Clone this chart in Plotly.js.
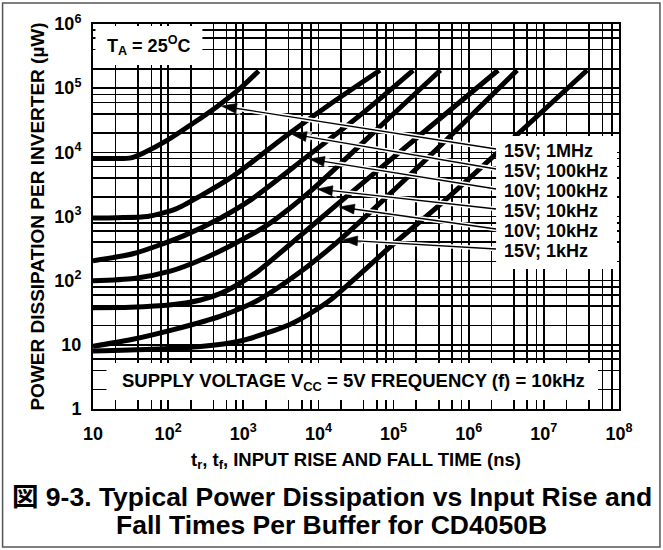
<!DOCTYPE html>
<html><head><meta charset="utf-8">
<script src="https://cdn.plot.ly/plotly-3.0.1.min.js"></script>
<style>html,body{margin:0;padding:0;background:#fff}#chart{width:663px;height:550px}</style>
</head><body><div id="chart"></div>
<script>
// ---------------- data ----------------
const seriesNames = ['15V; 1MHz', '15V; 100kHz', '10V; 100kHz', '15V; 10kHz', '10V; 10kHz', '15V; 1kHz', '5V; 10kHz'];

// rise/fall time (ns) and power (uW) per curve
const tA = [10, 20, 32, 47, 98, 217, 450, 915, 1600];
const pA = [8000, 8000, 8200, 9800, 15500, 28600, 52000, 100000, 185000];

const tB = [10, 21, 53, 125, 270, 740, 4000, 14400, 66000];
const pB = [950, 960, 1000, 1300, 2100, 4300, 19300, 56600, 190000];

const tC = [10, 35, 160, 500, 1240, 6700, 36000, 182000];
const pC = [205, 265, 500, 950, 1800, 8200, 38000, 190000];

const tD = [10, 35, 110, 270, 740, 2100, 4200, 8500, 23000, 90000, 420000];
const pD = [100, 108, 142, 210, 370, 740, 1360, 2700, 7900, 35500, 190000];

const tE = [10, 31.5, 110, 270, 510, 915, 1590, 5700, 16800, 226000, 2460000];
const pE = [38, 38.5, 42, 50, 64, 92, 142, 500, 1460, 18600, 190000];

const tF = [10, 31.5, 125, 500, 1590, 5700, 17800, 66000, 570000, 4400000];
const pF = [9.5, 12, 17.6, 28, 50, 136, 400, 1620, 18000, 190000];

const tG = [10, 58, 270, 915, 2060, 4230, 7800, 14400, 90000, 486000, 37600000];
const pG = [8.0, 8.5, 9.4, 11.5, 15.3, 21, 31, 50, 335, 1800, 190000];

// arrow tips (on the curves) for the six labelled curves
const arrowTipT = [511, 4360, 7560, 9660, 18950, 20770];
const arrowTipP = [52700, 19300, 7870, 2680, 1406, 430];

// axis ticks
const xDecades = [10, 100, 1e3, 1e4, 1e5, 1e6, 1e7, 1e8];
const xTickLabels = ['10', '10<sup>2</sup>', '10<sup>3</sup>', '10<sup>4</sup>', '10<sup>5</sup>', '10<sup>6</sup>', '10<sup>7</sup>', '10<sup>8</sup>'];
const yDecades = [1, 10, 100, 1e3, 1e4, 1e5, 1e6];
const yTickLabels = ['1', '10', '10<sup>2</sup>', '10<sup>3</sup>', '10<sup>4</sup>', '10<sup>5</sup>', '10<sup>6</sup>'];
const gridMultipliers = [2, 4, 6, 8];

const titleLines = ['図 9-3. Typical Power Dissipation vs Input Rise and', 'Fall Times Per Buffer for CD4050B'];
const xTitle = 't<sub>r</sub>, t<sub>f</sub>, INPUT RISE AND FALL TIME (ns)';
const yTitle = 'POWER DISSIPATION PER INVERTER (µW)';
const tempNote = 'T<sub>A</sub> = 25<sup>O</sup>C';
const supplyNote = 'SUPPLY VOLTAGE V<sub>CC</sub> = 5V FREQUENCY (f) = 10kHz';

// ---------------- layout helpers ----------------
const FONT = '"Liberation Sans", Arial, "Noto Sans CJK JP", sans-serif';
const INK = '#000';
const W = 663, H = 550, ML = 92.5, MR = 44, MT = 24, MB = 141;
const PW = W - ML - MR, PH = H - MT - MB;
const xRange = [1, 8], yRange = [0, 6];
const px2x = px => (px - ML) / PW;
const py2y = py => (H - MB - py) / PH;
// pixel position -> axis value (used only for label-box anchored arrow tails)
const pxToT = px => Math.pow(10, xRange[0] + (px - ML) / PW * (xRange[1] - xRange[0]));
const pyToP = py => Math.pow(10, yRange[1] - (py - MT) / PH * (yRange[1] - yRange[0]));

function minorGrid(decades) {
  const v = [];
  decades.slice(0, -1).forEach(d => gridMultipliers.forEach(m => v.push(d * m)));
  return v;
}

const curves = [[tA, pA], [tB, pB], [tC, pC], [tD, pD], [tE, pE], [tF, pF], [tG, pG]];
const traces = curves.map((c, i) => ({
  x: c[0], y: c[1], name: seriesNames[i], type: 'scatter', mode: 'lines',
  line: {color: INK, width: 5, shape: 'spline', smoothing: 0.7},
  hoverinfo: 'skip'
}));

// leader arrows from the label box to the curves
const labelY = [151, 171, 191, 211, 231, 251];
const tailX = 496;
const halo = [], black = [];
arrowTipT.forEach((t, i) => {
  const xs = [pxToT(tailX), t], ys = [pyToP(labelY[i] - 2), arrowTipP[i]];
  halo.push({x: xs, y: ys, type: 'scatter', mode: 'lines+markers', hoverinfo: 'skip',
    line: {color: '#fff', width: 4.5},
    marker: {symbol: 'arrow', size: [0, 21], angleref: 'previous', color: '#fff', line: {width: 0}}});
  black.push({x: xs, y: ys, type: 'scatter', mode: 'lines+markers', hoverinfo: 'skip',
    line: {color: INK, width: 1.3},
    marker: {symbol: 'arrow', size: [0, 16], angleref: 'previous', color: INK, opacity: 1, line: {width: 0.6, color: INK}}});
});

const annotations = [];
seriesNames.slice(0, 6).forEach((s, i) => {
  annotations.push({text: s, xref: 'paper', yref: 'paper', x: px2x(502), y: py2y(labelY[i]),
    xanchor: 'left', yanchor: 'middle', showarrow: false,
    font: {family: FONT, size: 18, color: INK, weight: 700}});
});
annotations.push({text: tempNote, xref: 'paper', yref: 'paper', x: px2x(105), y: py2y(45),
  xanchor: 'left', yanchor: 'middle', showarrow: false, font: {family: FONT, size: 18, color: INK, weight: 700}});
annotations.push({text: supplyNote, xref: 'paper', yref: 'paper', x: px2x(353), y: py2y(382),
  xanchor: 'center', yanchor: 'middle', showarrow: false, font: {family: FONT, size: 18.5, color: INK, weight: 700}});
annotations.push({text: titleLines[0], xref: 'paper', yref: 'paper', x: px2x(331.5), y: py2y(497),
  xanchor: 'center', yanchor: 'middle', showarrow: false, font: {family: FONT, size: 26.5, color: INK, weight: 700}});
annotations.push({text: titleLines[1], xref: 'paper', yref: 'paper', x: px2x(331.5), y: py2y(525),
  xanchor: 'center', yanchor: 'middle', showarrow: false, font: {family: FONT, size: 26.5, color: INK, weight: 700}});

function box(x0, y0, x1, y1) {
  return {type: 'rect', xref: 'paper', yref: 'paper', x0: px2x(x0), x1: px2x(x1), y0: py2y(y1), y1: py2y(y0),
    fillcolor: '#fff', line: {width: 0}, layer: 'above'};
}
const shapes = [
  box(95, 26, 202, 65),
  box(106, 363, 598, 400),
  box(496, 136, 617, 269),
  {type: 'rect', xref: 'paper', yref: 'paper', x0: px2x(2), x1: px2x(660), y0: py2y(547), y1: py2y(3),
    line: {color: '#555', width: 1.5}, fillcolor: 'rgba(0,0,0,0)', layer: 'above'}
];

const axisCommon = {
  type: 'log', tickmode: 'array', showgrid: true, gridcolor: INK, gridwidth: 1.6,
  showline: true, linecolor: INK, linewidth: 2, mirror: true, ticks: '', zeroline: false,
  tickfont: {family: FONT, size: 18, color: INK, weight: 700}, fixedrange: true
};
const layout = {
  width: W, height: H, margin: {l: ML, r: MR, t: MT, b: MB},
  paper_bgcolor: '#fff', plot_bgcolor: '#fff', showlegend: false,
  xaxis: Object.assign({}, axisCommon, {range: xRange, tickvals: xDecades, ticktext: xTickLabels,
    minor: {tickmode: 'array', tickvals: minorGrid(xDecades), showgrid: true, gridcolor: INK, gridwidth: 1.6, ticks: ''},
    ticklabelstandoff: 7,
    title: {text: xTitle, font: {family: FONT, size: 18.5, color: INK, weight: 700}, standoff: 10}}),
  yaxis: Object.assign({}, axisCommon, {range: yRange, tickvals: yDecades, ticktext: yTickLabels,
    minor: {tickmode: 'array', tickvals: minorGrid(yDecades), showgrid: true, gridcolor: INK, gridwidth: 1.6, ticks: ''},
    ticklabelstandoff: 6,
    title: {text: yTitle, font: {family: FONT, size: 19, color: INK, weight: 700}, standoff: 5}}),
  shapes: shapes, annotations: annotations
};
Plotly.newPlot('chart', traces.concat(halo, black), layout, {displayModeBar: false, staticPlot: true});
</script>
</body></html>
